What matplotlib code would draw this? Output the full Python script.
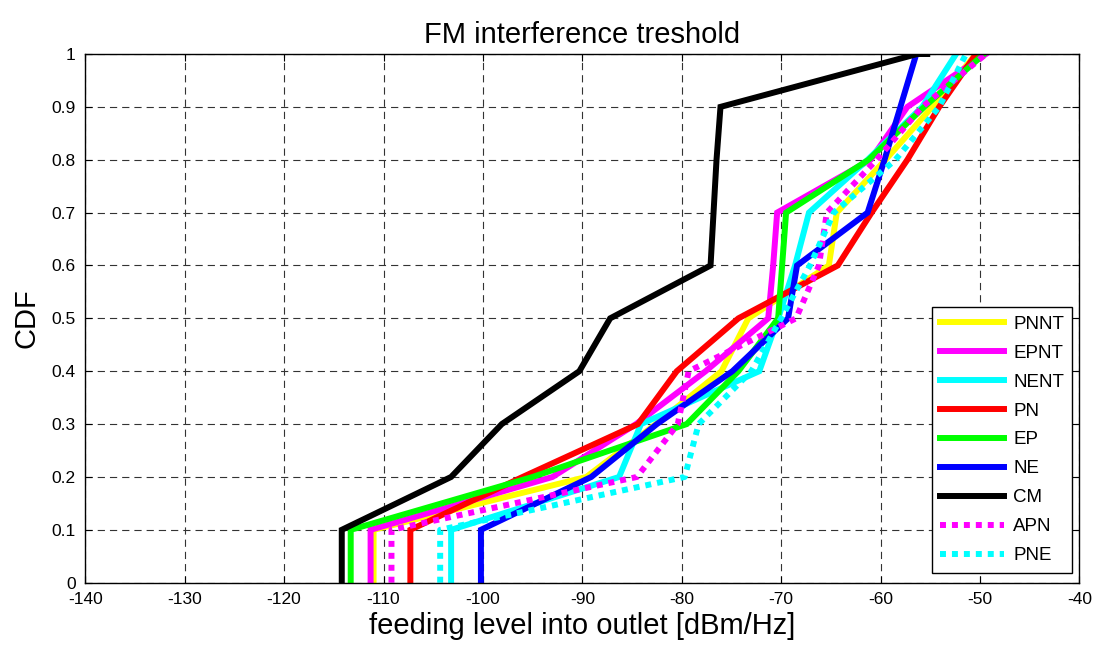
import matplotlib
matplotlib.use('Agg')
import matplotlib.pyplot as plt

# CDF levels shared by all curves
levels = [0.0, 0.1, 0.2, 0.3, 0.4, 0.5, 0.6, 0.7, 0.8, 0.9, 1.0]

# feeding level [dBm/Hz] at each CDF level
pnnt = [-111.0, -111.0, -89.6, -82.6, -76.0, -73.3, -65.2, -64.4, -59.5, -54.8, -50.4]
epnt = [-111.3, -111.3, -93.0, -84.6, -77.6, -71.3, -70.8, -70.4, -61.0, -57.3, -49.4]
nent = [-103.2, -103.2, -86.3, -84.1, -72.2, -70.3, -68.6, -67.2, -61.3, -55.8, -52.4]
pn = [-107.3, -107.3, -96.0, -84.4, -80.5, -74.3, -64.3, -60.9, -57.3, -54.1, -50.4]
ep = [-113.3, -113.3, -95.0, -79.5, -74.3, -70.3, -69.9, -69.5, -61.2, -55.6, -49.6]
ne = [-100.2, -100.2, -89.1, -82.5, -74.9, -69.3, -68.4, -61.3, -59.6, -58.0, -56.4]
cm = [-114.2, -114.2, -103.2, -98.1, -90.3, -87.2, -77.1, -76.8, -76.5, -76.1, -56.3, -55.3]
cm_levels = levels + [1.0]
apn = [-109.2, -109.2, -84.5, -80.4, -79.3, -68.5, -66.2, -65.4, -60.4, -55.8, -49.4]
pne = [-104.3, -104.3, -79.7, -78.3, -73.0, -70.0, -67.1, -64.7, -58.5, -54.1, -51.4]

series = [
    ('PNNT', pnnt, levels, '#FFFF00', '-'),
    ('EPNT', epnt, levels, '#FF00FF', '-'),
    ('NENT', nent, levels, '#00FFFF', '-'),
    ('PN', pn, levels, '#FF0000', '-'),
    ('EP', ep, levels, '#00FF00', '-'),
    ('NE', ne, levels, '#0000FF', '-'),
    ('CM', cm, cm_levels, '#000000', '-'),
    ('APN', apn, levels, '#FF00FF', (0, (1, 1))),
    ('PNE', pne, levels, '#00FFFF', (0, (1, 1))),
]

x_ticks = [-140, -130, -120, -110, -100, -90, -80, -70, -60, -50, -40]
y_ticks = [0.0, 0.1, 0.2, 0.3, 0.4, 0.5, 0.6, 0.7, 0.8, 0.9, 1.0]
y_tick_labels = ['0', '0.1', '0.2', '0.3', '0.4', '0.5', '0.6', '0.7', '0.8', '0.9', '1']

plt.rcParams['font.family'] = ['Liberation Sans', 'DejaVu Sans']
plt.rcParams['axes.unicode_minus'] = False

fig = plt.figure(figsize=(10.95, 6.46), dpi=100)
ax = fig.add_axes([0.0779, 0.098, 0.9078, 0.8184])

for name, xs, ys, col, ls in series:
    ax.plot(xs, ys, color=col, linestyle=ls, linewidth=4.3, label=name,
            solid_joinstyle='miter', dash_capstyle='butt')

ax.set_xlim(-140, -40)
ax.set_ylim(0, 1)
ax.set_xticks(x_ticks)
ax.set_yticks(y_ticks)
ax.set_yticklabels(y_tick_labels)
ax.tick_params(direction='in', length=5, width=0.8, top=True, right=True,
               labelsize=12.5, pad=7)
ax.grid(True, color='#333333', linestyle=(0, (6.5, 4.5)), linewidth=0.8)
for sp in ax.spines.values():
    sp.set_linewidth(1.0)

ax.set_title('FM interference treshold', fontsize=21, pad=8)
ax.set_xlabel('feeding level into outlet [dBm/Hz]', fontsize=21, labelpad=3)
ax.set_ylabel('CDF', fontsize=21, labelpad=8)

leg = ax.legend(loc='lower right', bbox_to_anchor=(0.993, 0.019), borderaxespad=0,
                fontsize=13.5, handlelength=3.4, labelspacing=0.63, fancybox=False,
                framealpha=1, edgecolor='black', borderpad=0.45, handletextpad=0.5)
leg.get_frame().set_linewidth(1.0)

plt.savefig('out.png', dpi=100)
